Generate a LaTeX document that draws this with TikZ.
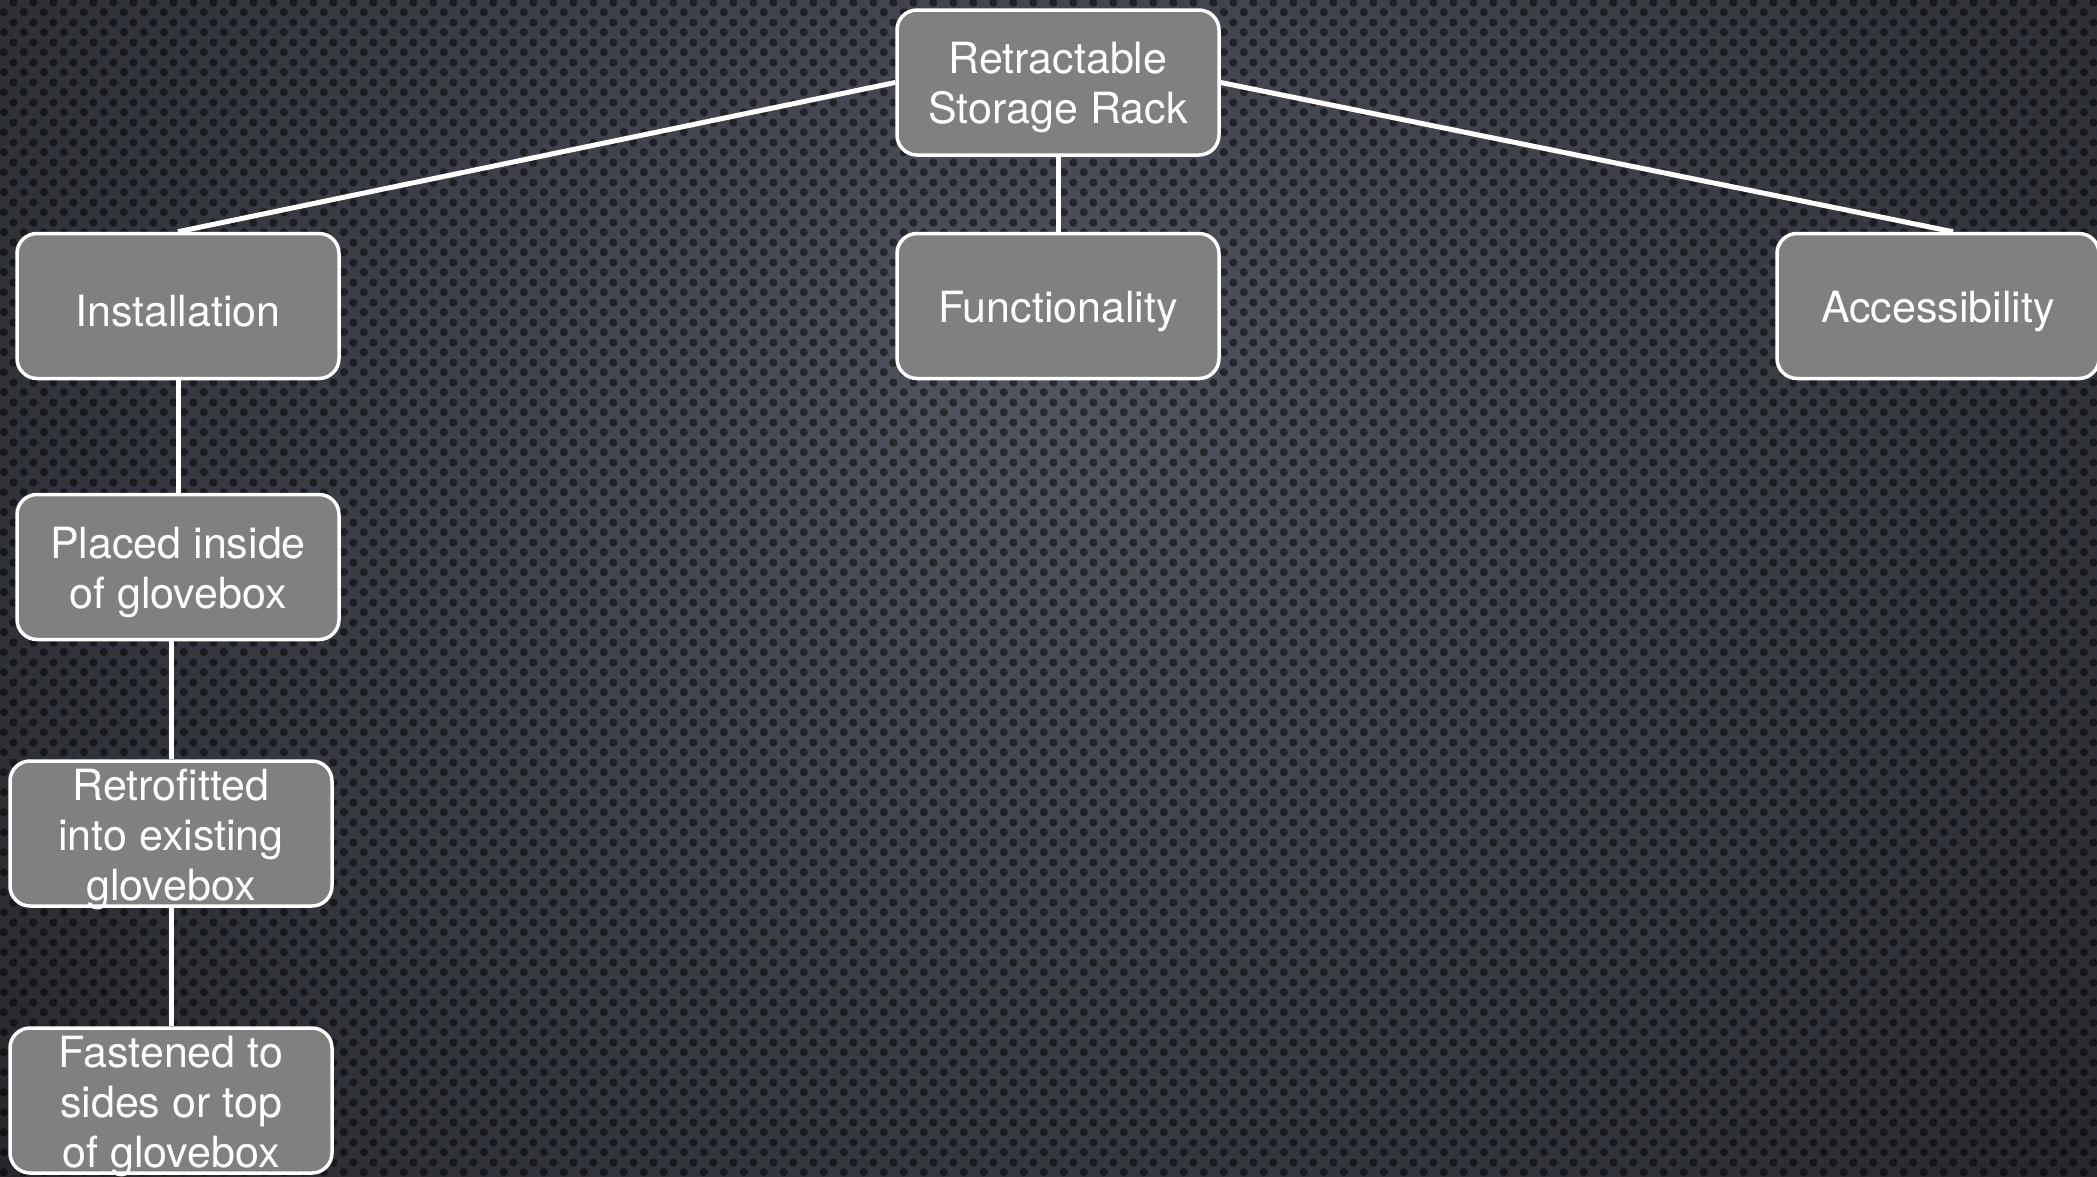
\documentclass[tikz,border=0pt]{standalone}
\usepackage{fontspec}
\setmainfont{TeX Gyre Heros}
\usetikzlibrary{patterns.meta}
\definecolor{bgin}{HTML}{50545E}
\definecolor{bgout}{HTML}{1A1B1F}
\definecolor{boxfill}{HTML}{808080}
\tikzdeclarepattern{
  name=bgdots,
  type=uncolored,
  bounding box={(0pt,0pt) and (20pt,20pt)},
  tile size={(20pt,20pt)},
  code={
    \pgfpathcircle{\pgfpoint{5pt}{5pt}}{4.3pt}
    \pgfpathcircle{\pgfpoint{15pt}{15pt}}{4.3pt}
    \pgfusepath{fill}
  }
}
\tikzset{
  topicbox/.style={draw=white, line width=3.5pt, fill=boxfill, rounded corners=20pt,
    minimum width=322pt, minimum height=145pt, inner sep=0pt},
  boxtext/.style={align=center, text=white, inner sep=0pt, yshift=-5.5pt,
    font=\fontsize{43}{50}\selectfont},
  link/.style={draw=white, line width=5pt}
}
\begin{document}
\begin{tikzpicture}[x=1pt,y=-1pt]
\useasboundingbox (0,0) rectangle (2097,1176);
\begin{scope}
\clip (0,0) rectangle (2097,1176);
\fill[bgout] (0,0) rectangle (2097,1176);
\shade[inner color=bgin, outer color=bgout] (-700,-1100) rectangle (2800,1900);
\fill[pattern=bgdots, pattern color=black, fill opacity=0.5] (0,0) rectangle (2097,1176);
\end{scope}

\node[topicbox, label={[boxtext]center:{Retractable\\Storage Rack}}] (root) at (1058,82.5) {};
\node[topicbox, label={[boxtext]center:{Installation}}] (inst) at (178,306) {};
\node[topicbox, label={[boxtext]center:{Functionality}}] (func) at (1058,306) {};
\node[topicbox, label={[boxtext]center:{Accessibility}}] (acc) at (1938,306) {};
\node[topicbox, label={[boxtext]center:{Placed inside\\of glovebox}}] (placed) at (178,567) {};
\node[topicbox, label={[boxtext]center:{Retrofitted\\into existing\\glovebox}}] (retro) at (171,833.5) {};
\node[topicbox, label={[boxtext]center:{Fastened to\\sides or top\\of glovebox}}] (fast) at (171,1100.5) {};

\draw[link] (root.west) -- (inst.north);
\draw[link] (root.east) -- ([xshift=15pt]acc.north);
\draw[link] (root.south) -- (func.north);
\draw[link] (inst.south) -- (placed.north);
\draw[link] (retro.north |- placed.south) -- (retro.north);
\draw[link] (retro.south) -- (fast.north);
\end{tikzpicture}
\end{document}
